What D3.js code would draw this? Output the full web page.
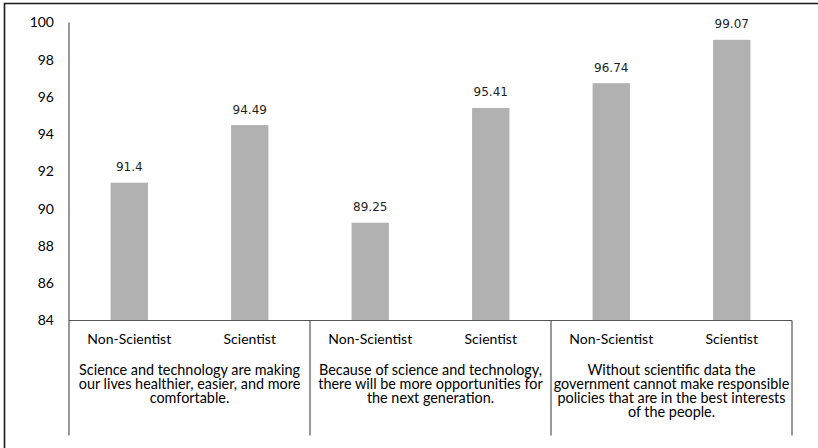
<!DOCTYPE html>
<html>
<head>
<meta charset="utf-8">
<script src="https://cdn.jsdelivr.net/npm/d3@7"></script>
<style>
  html, body { margin: 0; padding: 0; background: #fff; }
  svg { display: block; }
</style>
</head>
<body>
<svg id="chart" width="818" height="448"></svg>
<script>
// Statements shown under each pair of bars (pre-wrapped lines)
const statements = [
  ["Science and technology are making", "our lives healthier, easier, and more", "comfortable."],
  ["Because of science and technology,", "there will be more opportunities for", "the next generation."],
  ["Without scientific data the", "government cannot make responsible", "policies that are in the best interests", "of the people."]
];
const groups = ["Non-Scientist", "Scientist"];
const nonScientist = [91.4, 89.25, 96.74];
const scientist = [94.49, 95.41, 99.07];
const yTicks = [84, 86, 88, 90, 92, 94, 96, 98, 100];

const svg = d3.select("#chart");
const plotLeft = 69, plotRight = 792, plotTop = 22.5, plotBottom = 320.5, baseBottom = 435.5;

const x0 = d3.scaleBand().domain(d3.range(statements.length)).range([plotLeft, plotRight]).padding(0);
const x1 = d3.scaleBand().domain(groups).range([0, x0.bandwidth()])
  .paddingInner(0.69).paddingOuter(0.345);
const y = d3.scaleLinear().domain([84, 100]).range([plotBottom, plotTop]);

// outer frame (top and left edges)
svg.append("path")
  .attr("d", "M4.5,448 L4.5,3.5 L818,3.5")
  .attr("fill", "none").attr("stroke", "#1a1a1a").attr("stroke-width", 1.6);

// bars
const rows = statements.map((s, i) => [
  { stmt: i, group: groups[0], value: nonScientist[i] },
  { stmt: i, group: groups[1], value: scientist[i] }
]).flat();

svg.append("g").selectAll("rect").data(rows).join("rect")
  .attr("x", d => x0(d.stmt) + x1(d.group))
  .attr("y", d => y(d.value))
  .attr("width", x1.bandwidth())
  .attr("height", d => y(84) - y(d.value))
  .attr("fill", "#b1b1b1");

// value labels
svg.append("g").selectAll("text").data(rows).join("text")
  .attr("x", d => x0(d.stmt) + x1(d.group) + x1.bandwidth() / 2)
  .attr("y", d => y(d.value) - 11.5)
  .attr("text-anchor", "middle")
  .attr("font-family", "DejaVu Sans, sans-serif")
  .attr("font-size", 12)
  .attr("fill", "#1f1f1f")
  .text(d => d.value);

// y axis
const yAxis = d3.axisLeft(y).tickValues(yTicks).tickSize(0).tickPadding(15);
const gy = svg.append("g").attr("transform", `translate(${plotLeft},0)`).call(yAxis);
gy.select(".domain").remove();
gy.selectAll("text")
  .attr("font-family", "Lato, sans-serif")
  .attr("font-size", 14)
  .attr("fill", "#000");

const lineColor = "#555";
// vertical axis line reaching down through the category area
svg.append("line")
  .attr("x1", plotLeft).attr("x2", plotLeft).attr("y1", plotTop).attr("y2", baseBottom)
  .attr("stroke", lineColor).attr("stroke-width", 1.2);
// baseline
svg.append("line")
  .attr("x1", plotLeft).attr("x2", plotRight).attr("y1", plotBottom).attr("y2", plotBottom)
  .attr("stroke", lineColor).attr("stroke-width", 1.2);
// group separators
svg.append("g").selectAll("line").data(d3.range(1, statements.length + 1)).join("line")
  .attr("x1", i => i < statements.length ? x0(i) : plotRight)
  .attr("x2", i => i < statements.length ? x0(i) : plotRight)
  .attr("y1", plotBottom).attr("y2", baseBottom)
  .attr("stroke", lineColor).attr("stroke-width", 1.2);

// group (Non-Scientist / Scientist) labels
svg.append("g").selectAll("text").data(rows).join("text")
  .attr("x", d => x0(d.stmt) + x1(d.group) + x1.bandwidth() / 2)
  .attr("y", 343.5)
  .attr("text-anchor", "middle")
  .attr("font-family", "Lato, sans-serif")
  .attr("font-size", 14)
  .attr("fill", "#000")
  .text(d => d.group);

// statement labels
const st = svg.append("g").selectAll("text").data(statements).join("text")
  .attr("text-anchor", "middle")
  .attr("font-family", "Lato, sans-serif")
  .attr("font-size", 14.4)
  .attr("fill", "#000");
st.selectAll("tspan").data((d, i) => d.map(line => ({ line, i }))).join("tspan")
  .attr("x", d => x0(d.i) + x0.bandwidth() / 2)
  .attr("y", (d, j) => 374.5 + j * 14.2)
  .text(d => d.line);
</script>
</body>
</html>
